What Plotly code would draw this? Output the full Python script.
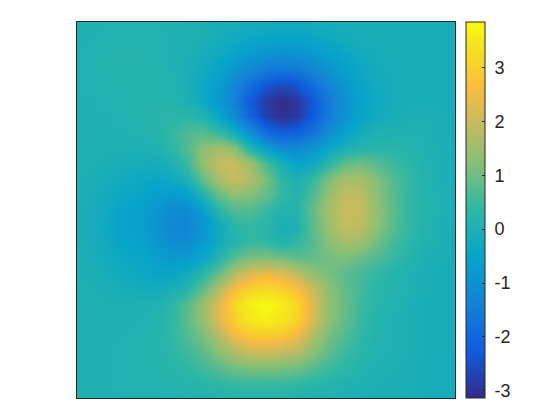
import plotly.graph_objects as go

# values on a 25x25 grid, first row is the top of the plot
z_rows = [
    [.05, .05, .05, .05, .05, .05, .05, 0, 0, -.05, -.1, -.15, -.15, -.2, -.2, -.15, -.1, -.1, -.1, -.1, -.1, -.1, -.1, -.1, -.1],
    [.05, .05, .1, .1, .1, .1, .05, .05, 0, -.15, -.25, -.35, -.45, -.5, -.5, -.4, -.3, -.2, -.1, -.1, -.1, -.1, -.1, -.1, -.1],
    [.05, .1, .15, .2, .15, .1, .05, 0, -.15, -.3, -.5, -.75, -.9, -1.0, -.95, -.8, -.6, -.4, -.25, -.15, -.1, -.1, -.1, -.1, -.1],
    [.05, .1, .15, .15, .15, .15, .05, -.05, -.25, -.5, -.85, -1.2, -1.5, -1.65, -1.55, -1.25, -.9, -.6, -.35, -.2, -.15, -.1, -.1, -.1, -.1],
    [.05, .1, .1, .15, .15, .15, .1, -.05, -.35, -.7, -1.25, -1.85, -2.35, -2.6, -2.4, -1.85, -1.3, -.8, -.45, -.25, -.15, -.1, -.1, -.1, -.1],
    [.05, .05, .1, .1, .15, .15, .15, 0, -.3, -.8, -1.4, -2.25, -2.85, -3.1, -2.9, -2.3, -1.55, -1.0, -.55, -.3, -.15, -.1, -.1, -.1, -.1],
    [.05, .05, .05, .1, .15, .2, .25, .3, .1, -.45, -1.2, -2.1, -2.75, -3.05, -2.85, -2.25, -1.5, -.9, -.5, -.25, -.1, -.05, 0, -.05, -.1],
    [.05, .05, .05, .05, .1, .2, .4, .65, .75, .35, -.2, -1.0, -1.9, -2.25, -2.15, -1.7, -1.1, -.55, -.2, 0, .05, .05, .05, -.05, -.1],
    [.05, .05, 0, 0, 0, .05, .3, .7, 1.3, 1.55, 1.2, .1, -.7, -1.2, -1.2, -.9, -.45, -.05, .15, .25, .25, .15, .05, 0, -.1],
    [.05, 0, -.05, -.1, -.15, -.15, 0, .5, 1.4, 1.95, 2.0, 1.5, .6, -.1, -.55, -.3, .3, .8, .95, .75, .5, .3, .1, 0, -.05],
    [0, -.05, -.15, -.25, -.35, -.4, -.3, 0, .9, 1.65, 2.0, 1.7, 1.1, .3, 0, .45, 1.1, 1.6, 1.6, 1.2, .75, .4, .15, 0, -.05],
    [0, -.1, -.25, -.4, -.45, -.65, -.75, -.6, .15, .9, 1.35, 1.2, .9, .4, .15, .7, 1.4, 1.95, 1.85, 1.3, .8, .4, .15, .05, -.05],
    [-.05, -.15, -.3, -.5, -.6, -.85, -1.15, -1.15, -.65, .3, .7, .7, .45, .1, .2, .9, 1.6, 2.0, 1.95, 1.4, .85, .4, .2, .05, -.1],
    [-.05, -.15, -.35, -.55, -.6, -.9, -1.25, -1.3, -.85, -.3, .25, .4, .25, -.1, .05, .8, 1.5, 1.95, 1.85, 1.35, .8, .4, .15, 0, -.1],
    [-.05, -.15, -.3, -.5, -.55, -.85, -1.1, -1.1, -.75, -.25, .2, .4, .35, .1, .35, .75, 1.3, 1.6, 1.5, 1.05, .6, .3, .1, 0, -.1],
    [0, -.1, -.25, -.4, -.45, -.65, -.8, -.75, -.45, .15, .7, 1.05, 1.1, .95, .8, .85, 1.05, 1.15, .95, .7, .45, .2, 0, -.05, -.1],
    [0, -.05, -.15, -.25, -.35, -.45, -.45, -.25, .25, .9, 1.7, 2.2, 2.4, 2.25, 1.85, 1.35, 1.05, .8, .6, .4, .2, .05, -.05, -.1, -.1],
    [.05, 0, -.05, -.15, -.2, -.2, -.1, .15, .85, 1.7, 2.6, 3.05, 3.2, 3.05, 2.6, 2.0, 1.3, .85, .55, .3, .15, .05, -.05, -.1, -.1],
    [.05, .05, 0, 0, 0, .05, .3, .75, 1.45, 2.3, 3.2, 3.65, 3.8, 3.6, 3.15, 2.2, 1.35, .9, .5, .25, .1, 0, -.1, -.1, -.1],
    [.05, .05, .05, .05, .05, .15, .35, .8, 1.4, 2.25, 3.05, 3.5, 3.65, 3.45, 3.05, 2.15, 1.3, .85, .45, .2, .05, 0, -.1, -.1, -.1],
    [.05, .05, .05, .05, .1, .15, .35, .7, 1.1, 1.8, 2.5, 2.85, 2.95, 2.8, 2.45, 1.7, 1.05, .7, .35, .15, .05, 0, -.1, -.1, -.1],
    [.05, .05, .05, .1, .1, .15, .3, .5, .85, 1.3, 1.75, 2.05, 2.1, 2.0, 1.8, 1.3, .85, .5, .25, .1, .05, 0, -.1, -.1, -.15],
    [.05, .05, .05, .1, .1, .15, .2, .35, .55, .8, 1.05, 1.15, 1.2, 1.15, 1.0, .75, .5, .3, .15, .05, 0, -.05, -.1, -.15, -.15],
    [.05, .05, .05, .1, .1, .1, .15, .2, .25, .35, .45, .5, .5, .45, .4, .3, .2, .1, .05, 0, -.05, -.05, -.1, -.15, -.15],
    [.05, .05, .05, .05, .05, .05, .05, .1, .1, .15, .15, .15, .15, .15, .1, .05, .05, 0, -.05, -.05, -.05, -.1, -.15, -.15, -.15],
]
tick_vals = [-3, -2, -1, 0, 1, 2, 3]
# nbsp pushes the labels away from the bar
tick_text = ["\u00a0-3", "\u00a0-2", "\u00a0-1", "\u00a00", "\u00a01", "\u00a02", "\u00a03"]

# parula
colorscale = [
    [0, '#352a87'], [0.125, '#0f5cdd'], [0.25, '#1481d6'], [0.375, '#06a4ca'], [0.5, '#2eb7a4'],
    [0.625, '#87bf77'], [0.75, '#d1bb59'], [0.83, '#fcbd3d'], [0.9, '#f5d727'], [0.95, '#f5e81c'], [1, '#f9fb0e'],
]

fig = go.Figure()

fig.add_trace(go.Heatmap(
    z=z_rows,
    zsmooth='best',
    zmin=-3.135,
    zmax=3.846,
    colorscale=colorscale,
    hoverinfo='skip',
    colorbar=dict(
        thicknessmode='pixels', thickness=19,
        lenmode='pixels', len=376,
        x=1.029, xanchor='left', xpad=0,
        y=0.5, yanchor='middle', ypad=0,
        tickmode='array', tickvals=tick_vals, ticktext=tick_text,
        ticks='inside', ticklen=3, tickcolor='#262626',
        tickfont=dict(family='Liberation Sans', size=18, color='#262626'),
        outlinecolor='#262626', outlinewidth=1,
    ),
))

# page body adds 8px, so the figure is a bit smaller than the window
fig.update_layout(
    width=544, height=404, autosize=False,
    margin=dict(l=69, r=97, t=14, b=14),
    paper_bgcolor='white', plot_bgcolor='white',
    xaxis=dict(range=[0, 24], showgrid=False, zeroline=False, showticklabels=False, ticks='',
               showline=True, mirror=True, linecolor='#262626', linewidth=1),
    yaxis=dict(range=[24, 0], showgrid=False, zeroline=False, showticklabels=False, ticks='',
               showline=True, mirror=True, linecolor='#262626', linewidth=1),
)

fig.write_html("out.html")
